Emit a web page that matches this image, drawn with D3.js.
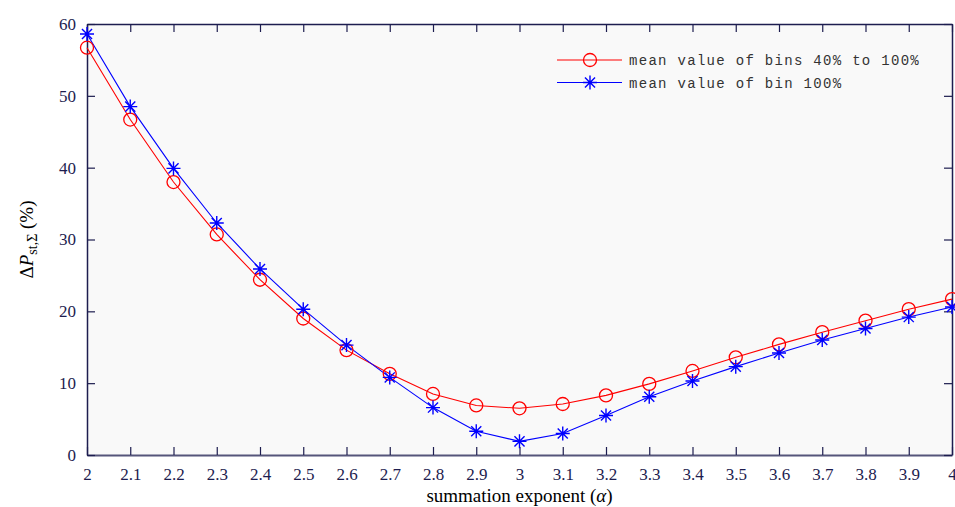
<!DOCTYPE html>
<html>
<head>
<meta charset="utf-8">
<script src="https://cdn.jsdelivr.net/npm/d3@7"></script>
<style>
  body { margin: 0; background: #fff; }
  svg { display: block; }
</style>
</head>
<body>
<div id="chart"></div>
<script>
const alphas = [2, 2.1, 2.2, 2.3, 2.4, 2.5, 2.6, 2.7, 2.8, 2.9, 3, 3.1, 3.2, 3.3, 3.4, 3.5, 3.6, 3.7, 3.8, 3.9, 4];
const meanBins40to100 = [56.7, 46.7, 38.0, 30.7, 24.4, 19.0, 14.6, 11.3, 8.5, 6.9, 6.5, 7.1, 8.3, 9.9, 11.7, 13.6, 15.4, 17.1, 18.7, 20.3, 21.7];
const meanBin100 = [58.6, 48.5, 39.9, 32.3, 25.9, 20.3, 15.3, 10.8, 6.6, 3.3, 1.9, 3.0, 5.5, 8.1, 10.3, 12.3, 14.2, 16.0, 17.6, 19.2, 20.6];
const xTicks = [2, 2.1, 2.2, 2.3, 2.4, 2.5, 2.6, 2.7, 2.8, 2.9, 3, 3.1, 3.2, 3.3, 3.4, 3.5, 3.6, 3.7, 3.8, 3.9, 4];
const yTicks = [0, 10, 20, 30, 40, 50, 60];
const seriesNames = ['mean value of bins 40% to 100%', 'mean value of bin 100%'];

const W = 955, H = 507;
const margin = { top: 24, right: 3, bottom: 52, left: 87 };
const width = W - margin.left - margin.right;
const height = H - margin.top - margin.bottom;
const axisColor = '#1d1d4f';

const svg = d3.select('#chart').append('svg')
    .attr('width', W)
    .attr('height', H);

const g = svg.append('g')
    .attr('transform', `translate(${margin.left},${margin.top})`);

const x = d3.scaleLinear().domain([2, 4]).range([0, width]);
const y = d3.scaleLinear().domain([0, 60]).range([height, 0]);

// plot background
g.append('rect')
    .attr('width', width)
    .attr('height', height)
    .attr('fill', '#f9f9f9');

const fmt = d => String(d);
const serif = '"Liberation Serif", "DejaVu Serif", serif';

// axes: bottom & left with labels, top & right ticks only
const xAxis = g.append('g')
    .attr('transform', `translate(0,${height})`)
    .call(d3.axisBottom(x).tickValues(xTicks).tickFormat(fmt).tickSizeInner(-8).tickSizeOuter(0).tickPadding(13));
const yAxis = g.append('g')
    .call(d3.axisLeft(y).tickValues(yTicks).tickFormat(fmt).tickSizeInner(-8).tickSizeOuter(0).tickPadding(11));
const xTop = g.append('g')
    .call(d3.axisTop(x).tickValues(xTicks).tickFormat('').tickSizeInner(-8).tickSizeOuter(0));
const yRight = g.append('g')
    .attr('transform', `translate(${width},0)`)
    .call(d3.axisRight(y).tickValues(yTicks).tickFormat('').tickSizeInner(-8).tickSizeOuter(0));

[xAxis, yAxis, xTop, yRight].forEach(a => {
    a.select('.domain').attr('stroke', axisColor).attr('stroke-width', 1.5);
    a.selectAll('.tick line').attr('stroke', axisColor).attr('stroke-width', 1.2);
    a.selectAll('.tick text')
        .attr('fill', axisColor)
        .style('font-family', serif)
        .style('font-size', '17px');
});
xAxis.select('.domain').attr('stroke', '#55557a').attr('stroke-width', 2);

// series lines
const line = d3.line()
    .x((d, i) => x(alphas[i]))
    .y(d => y(d));

g.append('path')
    .datum(meanBins40to100)
    .attr('fill', 'none')
    .attr('stroke', '#ff0000')
    .attr('stroke-width', 1.1)
    .attr('d', line);

g.append('path')
    .datum(meanBin100)
    .attr('fill', 'none')
    .attr('stroke', '#0000ff')
    .attr('stroke-width', 1.1)
    .attr('d', line);

const star = (sel) => {
    const r = 7, d = r * 0.72;
    sel.append('path')
        .attr('d', `M${-r},0H${r}M0,${-r}V${r}M${-d},${-d}L${d},${d}M${-d},${d}L${d},${-d}`)
        .attr('stroke', '#0000ff')
        .attr('stroke-width', 1.4)
        .attr('fill', 'none');
};

g.selectAll('.circ')
    .data(meanBins40to100)
    .enter()
    .append('circle')
    .attr('class', 'circ')
    .attr('cx', (d, i) => x(alphas[i]))
    .attr('cy', d => y(d))
    .attr('r', 6.5)
    .attr('fill', 'none')
    .attr('stroke', '#ff0000')
    .attr('stroke-width', 1.3);

g.selectAll('.star')
    .data(meanBin100)
    .enter()
    .append('g')
    .attr('class', 'star')
    .attr('transform', (d, i) => `translate(${x(alphas[i])},${y(d)})`)
    .each(function () { star(d3.select(this)); });

// legend
const legend = svg.append('g').attr('transform', 'translate(557,60)');
const mono = '"Liberation Mono", "DejaVu Sans Mono", monospace';
seriesNames.forEach((name, i) => {
    const row = legend.append('g').attr('transform', `translate(0,${i * 22.5})`);
    const color = i === 0 ? '#ff0000' : '#0000ff';
    row.append('line')
        .attr('x1', 0).attr('x2', 65)
        .attr('stroke', color).attr('stroke-width', 1.1);
    if (i === 0) {
        row.append('circle').attr('cx', 33).attr('r', 6.5)
            .attr('fill', 'none').attr('stroke', color).attr('stroke-width', 1.3);
    } else {
        star(row.append('g').attr('transform', 'translate(33,0)'));
    }
    row.append('text')
        .attr('x', 72).attr('y', 5)
        .style('font-family', mono)
        .style('font-size', '14px')
        .style('letter-spacing', '1.3px')
        .attr('fill', '#333')
        .text(name);
});

// axis labels
const xl = svg.append('text')
    .attr('x', margin.left + width / 2)
    .attr('y', 502)
    .attr('text-anchor', 'middle')
    .style('font-family', serif)
    .style('font-size', '19px')
    .attr('fill', '#000');
xl.append('tspan').text('summation exponent (');
xl.append('tspan').style('font-style', 'italic').text('α');
xl.append('tspan').text(')');

const yl = svg.append('text')
    .attr('transform', `translate(33,${margin.top + height / 2}) rotate(-90)`)
    .attr('text-anchor', 'middle')
    .style('font-family', serif)
    .style('font-size', '19px')
    .attr('fill', '#000');
yl.append('tspan').text('Δ');
yl.append('tspan').style('font-style', 'italic').text('P');
yl.append('tspan').attr('dy', 4).style('font-size', '14px').text('st,Σ');
yl.append('tspan').attr('dy', -4).text(' (%)');
</script>
</body>
</html>
